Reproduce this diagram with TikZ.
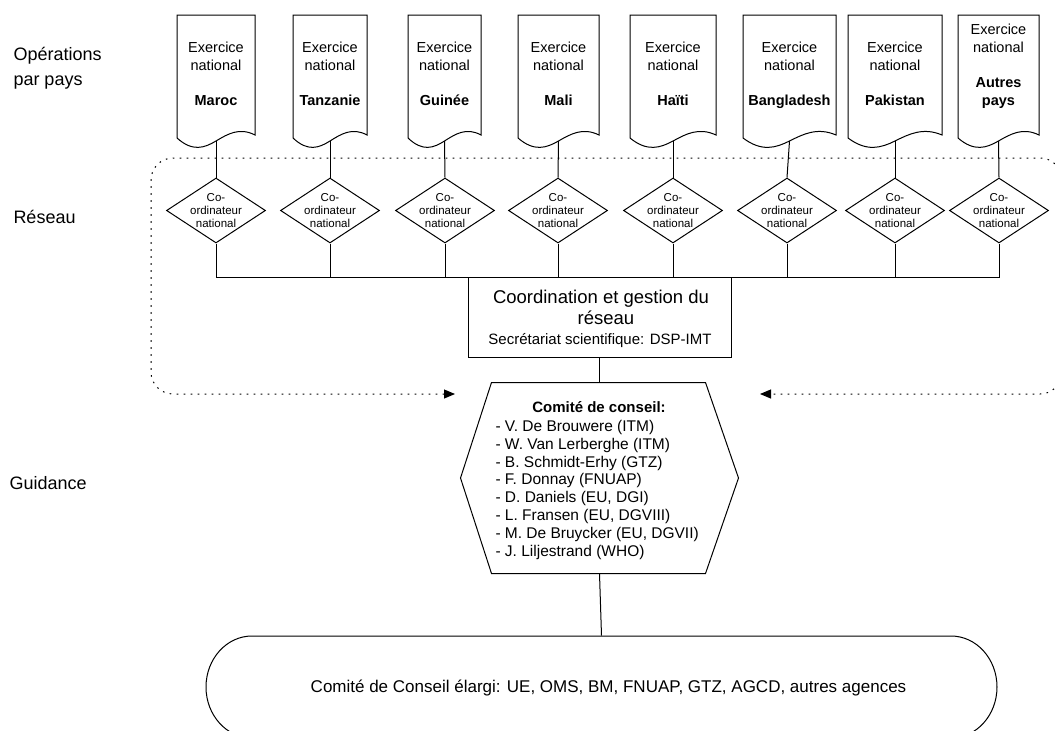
\documentclass[tikz,border=0pt]{standalone}
\usepackage{fontspec}
\setmainfont{Liberation Sans}
\usetikzlibrary{shapes.geometric,arrows.meta}
\begin{document}
\begin{tikzpicture}[x=1pt,y=-1pt,line width=1pt,
  lbl/.style={font=\fontsize{18}{22}\selectfont, anchor=base west, inner sep=0pt},
  doctxt/.style={font=\fontsize{14.5}{17}\selectfont, anchor=base, inner sep=0pt},
  docname/.style={font=\fontsize{14.5}{17}\selectfont\bfseries, anchor=base, inner sep=0pt},
  docarea/.style={rectangle, draw=none, minimum height=123pt, inner sep=0pt},
  docline/.style={draw=black, line width=1pt},
  coordo/.style={diamond, draw, inner sep=0pt, minimum width=99pt, minimum height=65pt, aspect=1.52},
  coordotxt/.style={inner sep=0pt, align=center, font=\fontsize{11.5}{12.6}\selectfont},
  boxtxt/.style={anchor=base, inner sep=0pt},
  listtxt/.style={font=\fontsize{15.5}{18}\selectfont, anchor=base west, inner sep=0pt},
  dotloop/.style={line width=1pt, dash pattern=on 1.6pt off 5.4pt, rounded corners=22pt}
]
\useasboundingbox (0,0) rectangle (1055,731);
\fill[white] (0,0) rectangle (1055,731);
\clip (0,0) rectangle (1055,731);

% left labels
\node[lbl] (lab1) at (13,60) {Opérations};
\node[lbl] (lab2) at (13,85) {par pays};
\node[lbl] (lab3) at (13,223) {Réseau};
\node[lbl] (lab4) at (9,489) {Guidance};

% dotted loop
\coordinate (gapL) at (455,394);
\coordinate (gapR) at (760,394);
\coordinate (cTL) at (151,158);
\coordinate (cTR) at (1062,158);
\draw[dotloop, {Triangle[length=11pt,width=9pt]}-{Triangle[length=11pt,width=9pt]}] (gapL) -- (cTL |- gapL) -- (cTL) -- (cTR) -- (cTR |- gapR) -- (gapR);

% documents
\foreach \nm/\xa/\xb in {maroc/177/255, tanzanie/293/367, guinee/408/481, mali/518/599, haiti/630/716, bangladesh/743/836, pakistan/848/942, autres/958/1039}{
  \pgfmathsetmacro\mx{(\xa+\xb)/2}
  \pgfmathsetmacro\w{\xb-\xa}
  \draw[docline] (\xa,15) -- (\xb,15) -- (\xb,135)
     .. controls ({\xb-0.2*\w},127) and ({\xb-0.35*\w},134) .. (\mx,141)
     .. controls ({\xa+0.35*\w},148) and ({\xa+0.2*\w},152) .. (\xa,138) -- cycle;
  \node[docarea, minimum width={\w pt}] (\nm) at (\mx,76.5) {};
  \coordinate (\nm-b) at (\mx,141);
}
\foreach \nm/\mx/\cn in {maroc/216/Maroc, tanzanie/330/Tanzanie, guinee/444.5/Guinée, mali/558.5/Mali, haiti/673/Haïti, bangladesh/789.5/Bangladesh, pakistan/895/Pakistan}{
  \node[doctxt] (\nm-t1) at (\mx,52) {Exercice};
  \node[doctxt] (\nm-t2) at (\mx,70) {national};
  \node[docname] (\nm-t3) at (\mx,105) {\cn};
}
\node[doctxt] (autres-t1) at (998.5,34) {Exercice};
\node[doctxt] (autres-t2) at (998.5,52) {national};
\node[docname] (autres-t3) at (998.5,87) {Autres};
\node[docname] (autres-t4) at (998.5,105) {pays};

% coordinators
\foreach \i/\x in {1/216,2/330,3/445,4/558,5/673,6/787,7/895,8/999}{
  \node[coordo] (c\i) at (\x,210.5) {};
  \node[coordotxt] (c\i-t) at (c\i.center) {Co-\\ordinateur\\national};
}
\foreach \d/\i in {maroc/1,tanzanie/2,guinee/3,mali/4,haiti/5,bangladesh/6,pakistan/7,autres/8}{
  \draw (\d-b) -- (c\i.north);
}

% coordination box
\node[draw, fill=white, minimum width=263pt, minimum height=80pt, inner sep=0pt] (coord) at (599.5,317) {};
\coordinate (bus) at (599.5,277);
\draw (c1.south) |- (c8.south |- bus) -- (c8.south);
\foreach \i in {2,...,7}{\draw (c\i.south) -- (c\i.south |- bus);}
\node[boxtxt, font=\fontsize{18.5}{21}\selectfont] (coord-t1) at (601,303) {Coordination et gestion du};
\node[boxtxt, font=\fontsize{18.5}{21}\selectfont] (coord-t2) at (606,324) {réseau};
\node[boxtxt, font=\fontsize{15}{18}\selectfont] (coord-t3) at (600,344) {Secrétariat scientifique: DSP-IMT};

% advisory committee (hexagon)
\node[draw=none, minimum width=277pt, minimum height=190pt, inner sep=0pt] (comite) at (599.5,478) {};
\draw (comite.west) -- ([xshift=31pt]comite.north west) -- ([xshift=-33pt]comite.north east)
   -- (comite.east) -- ([xshift=-33pt]comite.south east) -- ([xshift=31pt]comite.south west) -- cycle;
\node[boxtxt, font=\fontsize{15}{18}\selectfont\bfseries] (comite-t) at (599,412) {Comité de conseil:};
\foreach \t [count=\i] in {{- V. De Brouwere (ITM)},{- W. Van Lerberghe (ITM)},{- B. Schmidt-Erhy (GTZ)},{- F. Donnay (FNUAP)},{- D. Daniels (EU, DGI)},{- L. Fransen (EU, DGVIII)},{- M. De Bruycker (EU, DGVII)},{- J. Liljestrand (WHO)}}{
  \node[listtxt] (m\i) at (495,{431.5+17.8*(\i-1)}) {\t};
}
\draw (coord.south) -- (comite.north);

% enlarged committee (terminal)
\node[draw=none, minimum width=791pt, minimum height=102pt, inner sep=0pt] (conseil) at (601.5,687) {};
\draw (252,636) -- (951,636) arc[start angle=-90, end angle=90, x radius=46, y radius=51]
   -- (252,738) arc[start angle=90, end angle=270, x radius=46, y radius=51] -- cycle;
\node[boxtxt, font=\fontsize{17}{20}\selectfont] (conseil-t) at (608.5,692) {Comité de Conseil élargi: UE, OMS, BM, FNUAP, GTZ, AGCD, autres agences};
\draw (comite.south) -- (conseil.north);
\end{tikzpicture}
\end{document}
